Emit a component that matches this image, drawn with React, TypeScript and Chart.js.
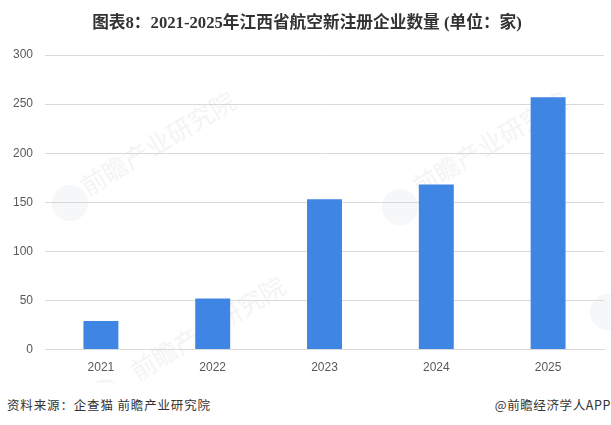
import { useEffect, useRef } from 'react';
import Chart from 'chart.js/auto';

const years = ['2021', '2022', '2023', '2024', '2025'];
const companies = [29, 52, 153, 168, 257];
const yTicks = [0, 50, 100, 150, 200, 250, 300];

const titleText = '图表8：2021-2025年江西省航空新注册企业数量 (单位：家)';
const sourceText = '资料来源：企查猫 前瞻产业研究院';
const creditText = '@前瞻经济学人APP';
const watermarkText = '前瞻产业研究院';
// left, top of each faint watermark text
const watermarks = [
  [82, 169],
  [414, 169],
  [132, 354],
];
// centre x, centre y of each faint logo disc
const logos = [
  [70, 203],
  [400, 207],
  [105, 397],
  [608, 312],
];

export default function App() {
  const chartRef = useRef<HTMLCanvasElement>(null);

  useEffect(() => {
    document.body.style.margin = '0';
    const ctx = chartRef.current?.getContext('2d');
    if (!ctx) return;

    const chart = new Chart(ctx, {
      type: 'bar',
      data: {
        labels: years,
        datasets: [
          {
            data: companies,
            backgroundColor: '#3f85e3',
            barPercentage: 0.3125,
            categoryPercentage: 1,
          },
        ],
      },
      options: {
        animation: false,
        responsive: false,
        layout: { padding: { top: 55, left: 0, right: 7, bottom: 47 } },
        plugins: {
          legend: { display: false },
          title: { display: false },
          tooltip: { enabled: false },
        },
        scales: {
          x: {
            grid: { display: false },
            border: { color: '#d9d9d9' },
            ticks: {
              color: '#595959',
              padding: 3,
              maxRotation: 0,
              font: { family: 'Liberation Sans', size: 12 },
            },
          },
          y: {
            min: 0,
            max: 300,
            afterFit: (scale) => {
              scale.width = 45;
            },
            afterBuildTicks: (scale) => {
              scale.ticks = yTicks.map((value) => ({ value }));
            },
            grid: { color: '#d9d9d9', drawTicks: false },
            border: { display: false },
            ticks: {
              color: '#595959',
              padding: 12,
              font: { family: 'Liberation Sans', size: 12 },
            },
          },
        },
      },
    });

    return () => {
      chart.destroy();
    };
  }, []);

  return (
    <div style={{ position: 'relative', width: 611, height: 425, overflow: 'hidden', background: '#fff' }}>
      {logos.map(([x, y], i) => (
        <div
          key={i}
          style={{
            position: 'absolute',
            left: x - 18,
            top: y - 18,
            width: 36,
            height: 36,
            borderRadius: '50%',
            background: '#f6f7f8',
          }}
        />
      ))}
      {watermarks.map(([left, top], i) => (
        <div
          key={i}
          style={{
            position: 'absolute',
            left,
            top,
            height: 36,
            lineHeight: '36px',
            fontFamily: 'Noto Sans CJK SC',
            fontSize: 25,
            color: '#f3f4f6',
            whiteSpace: 'nowrap',
            transform: 'rotate(-31deg)',
            transformOrigin: 'left center',
          }}
        >
          {watermarkText}
        </div>
      ))}
      <canvas ref={chartRef} width={611} height={425} style={{ position: 'absolute', left: 0, top: 0 }} />
      <div style={{ position: 'absolute', left: 0, top: 383, width: 611, height: 42, background: '#fff' }} />
      <div
        style={{
          position: 'absolute',
          left: 0,
          width: 614,
          top: 9,
          textAlign: 'center',
          fontFamily: "'Liberation Serif', 'Noto Sans CJK SC'",
          fontWeight: 700,
          fontSize: 16.7,
          color: '#333',
          whiteSpace: 'nowrap',
        }}
      >
        {titleText}
      </div>
      <div
        style={{
          position: 'absolute',
          left: 7,
          top: 395,
          fontFamily: 'Noto Sans CJK SC',
          fontSize: 12.5,
          letterSpacing: 0.85,
          color: '#333',
          whiteSpace: 'nowrap',
        }}
      >
        {sourceText}
      </div>
      <div
        style={{
          position: 'absolute',
          right: 0,
          top: 395,
          fontFamily: 'Noto Sans CJK SC',
          fontSize: 12.5,
          letterSpacing: 0.6,
          color: '#333',
          whiteSpace: 'nowrap',
        }}
      >
        {creditText}
      </div>
    </div>
  );
}
